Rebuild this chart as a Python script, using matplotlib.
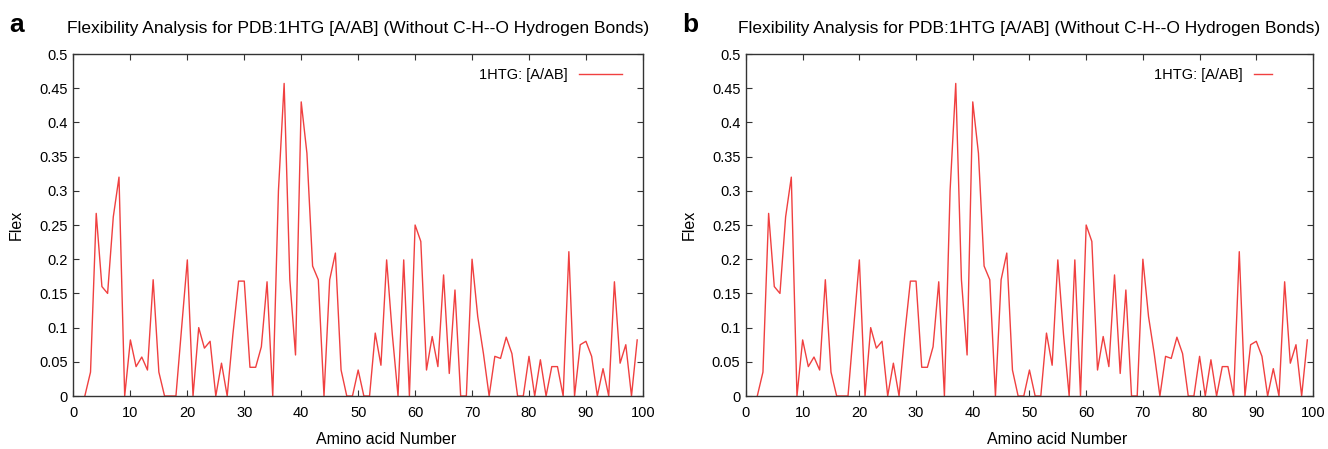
import matplotlib
matplotlib.use('Agg')
import matplotlib.pyplot as plt
from matplotlib.ticker import MultipleLocator, FormatStrFormatter

plt.rcParams['font.family'] = ['Liberation Sans', 'DejaVu Sans']

# residue numbers and flexibility values (same trace in both panels)
residue = list(range(2, 100))
flex = [0, 0.035, 0.267, 0.16, 0.15, 0.262, 0.32, 0, 0.082, 0.043,
        0.057, 0.038, 0.17, 0.035, 0, 0, 0, 0.1, 0.199, 0,
        0.1, 0.07, 0.08, 0, 0.048, 0, 0.09, 0.168, 0.168, 0.042,
        0.042, 0.072, 0.167, 0, 0.3, 0.457, 0.17, 0.06, 0.43, 0.355,
        0.19, 0.17, 0, 0.17, 0.209, 0.038, 0, 0, 0.038, 0,
        0, 0.092, 0.045, 0.199, 0.09, 0, 0.199, 0, 0.25, 0.226,
        0.038, 0.087, 0.043, 0.177, 0.033, 0.155, 0, 0, 0.2, 0.116,
        0.062, 0, 0.058, 0.055, 0.086, 0.062, 0, 0, 0.058, 0,
        0.053, 0, 0.043, 0.043, 0, 0.211, 0, 0.075, 0.08, 0.058,
        0, 0.04, 0, 0.167, 0.048, 0.075, 0, 0.082]

title = 'Flexibility Analysis for PDB:1HTG [A/AB] (Without C-H--O Hydrogen Bonds)'
series_label = '1HTG: [A/AB]'
panels = ['a', 'b']

fig = plt.figure(figsize=(13.28, 4.49), dpi=100)
positions = [[0.0553, 0.118, 0.4288, 0.7617], [0.5617, 0.118, 0.427, 0.7617]]
handle_len = [2.9, 1.2]
leg_anchor = [(0.986, 0.997), (0.95, 0.997)]

for i, letter in enumerate(panels):
    ax = fig.add_axes(positions[i])
    ax.plot(residue, flex, color='#f04040', lw=1.0, label=series_label)
    ax.set_xlim(0, 100)
    ax.set_ylim(0, 0.5)
    ax.xaxis.set_major_locator(MultipleLocator(10))
    ax.yaxis.set_major_locator(MultipleLocator(0.05))
    ax.yaxis.set_major_formatter(FormatStrFormatter('%g'))
    ax.tick_params(direction='in', length=4, width=0.8, top=True, right=True,
                   labelsize=10.5, color='#333333')
    ax.tick_params(axis='x', pad=7)
    ax.tick_params(axis='y', pad=4)
    for s in ax.spines.values():
        s.set_linewidth(1.0)
        s.set_color('#333333')
    ax.set_xlabel('Amino acid Number', fontsize=11.5, labelpad=9)
    ax.xaxis.set_label_coords(0.549, -0.105)
    ax.set_ylabel('Flex', fontsize=11.5, labelpad=11)
    ax.set_title(title, fontsize=12.5, pad=15)
    ax.legend(loc='upper right', frameon=False, markerfirst=False,
              handlelength=handle_len[i], fontsize=10.5,
              bbox_to_anchor=leg_anchor[i], handletextpad=0.8)
    ax.text(-0.113, 1.085, letter, transform=ax.transAxes, fontsize=19,
            fontweight='bold', ha='left', va='center')

fig.savefig('out.png', dpi=100)
